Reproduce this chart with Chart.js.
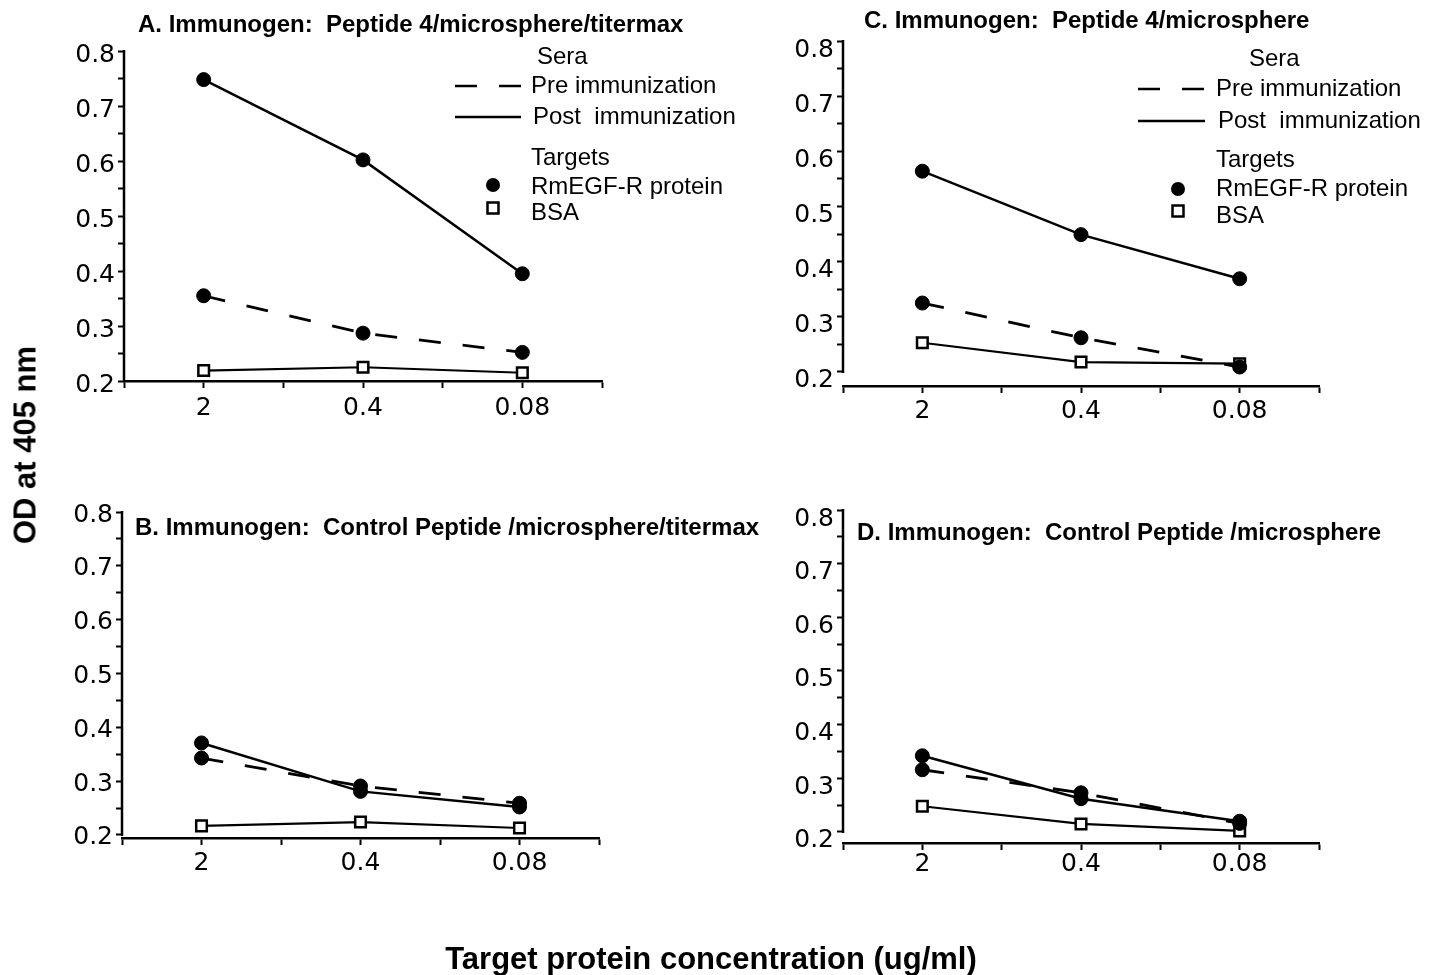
<!DOCTYPE html>
<html><head><meta charset="utf-8">
<script src="https://cdn.jsdelivr.net/npm/chart.js@4/dist/chart.umd.min.js"></script>
<style>
html,body{margin:0;padding:0;background:#fff;}
#wrap{position:relative;width:1431px;height:975px;overflow:hidden;background:#fff;}
canvas{position:absolute;left:0;top:0;width:1431px;height:975px;}
.t{position:absolute;font-family:"Liberation Sans",Arial,sans-serif;font-weight:bold;color:#000;white-space:nowrap;line-height:1;}
#ytitle{left:25px;top:445px;font-size:31px;transform:translate(-50%,-50%) rotate(-90deg);}
#xtitle{left:711px;top:958px;font-size:31px;transform:translate(-50%,-50%);}
</style></head><body>
<div id="wrap">
<canvas id="cA" width="1431" height="975"></canvas>
<canvas id="cB" width="1431" height="975"></canvas>
<canvas id="cC" width="1431" height="975"></canvas>
<canvas id="cD" width="1431" height="975"></canvas>
<div class="t" id="ytitle">OD at 405 nm</div>
<div class="t" id="xtitle">Target protein concentration (ug/ml)</div>
</div>
<script>
// ---- data ----
const concLabels = ['2', '0.4', '0.08'];
const yTickLabels = [0.2, 0.3, 0.4, 0.5, 0.6, 0.7, 0.8];
const seraLabels = ['Pre immunization', 'Post  immunization'];
const targetLabels = ['RmEGF-R protein', 'BSA'];

const titleA = 'A. Immunogen:  Peptide 4/microsphere/titermax';
const titleB = 'B. Immunogen:  Control Peptide /microsphere/titermax';
const titleC = 'C. Immunogen:  Peptide 4/microsphere';
const titleD = 'D. Immunogen:  Control Peptide /microsphere';

const A_pre  = [0.355, 0.287, 0.252];
const A_post = [0.748, 0.602, 0.395];
const A_bsa  = [0.219, 0.225, 0.215];

const B_pre  = [0.343, 0.291, 0.259];
const B_post = [0.371, 0.281, 0.252];
const B_bsa  = [0.217, 0.224, 0.213];

const C_pre  = [0.325, 0.262, 0.209];
const C_post = [0.564, 0.449, 0.369];
const C_bsa  = [0.253, 0.218, 0.215];

const D_pre  = [0.316, 0.273, 0.216];
const D_post = [0.342, 0.262, 0.220];
const D_bsa  = [0.248, 0.215, 0.202];

// ---- rendering ----
const W = 1431, H = 975;
const FONT = '"Liberation Sans", Arial, sans-serif';
const TICKFONT = '"DejaVu Sans", Verdana, sans-serif';
const yTickVals = [];
for (let i = 0; i < yTickLabels.length; i++) {
  yTickVals.push(yTickLabels[i]);
  if (i < yTickLabels.length - 1) yTickVals.push((yTickLabels[i] + yTickLabels[i + 1]) / 2);
}

function pts(arr) { return arr.map((v, i) => ({ x: 2 * i + 1, y: v })); }

const decor = {
  id: 'decor',
  afterDraw(chart, args, o) {
    const ctx = chart.ctx;
    const ys = chart.scales.y;
    const x0 = chart.chartArea.left;
    ctx.save();
    ctx.strokeStyle = '#000'; ctx.fillStyle = '#000';
    ctx.lineWidth = 2.5; ctx.lineCap = 'butt';
    ctx.beginPath();
    ctx.moveTo(x0, ys.getPixelForValue(yTickLabels[yTickLabels.length - 1]) - 1);
    ctx.lineTo(x0, ys.getPixelForValue(yTickLabels[0]) + 1);
    ctx.stroke();
    // title
    ctx.font = 'bold 24px ' + FONT;
    ctx.textBaseline = 'middle'; ctx.textAlign = 'left';
    ctx.fillText(o.title, o.titleX, o.titleY);
    const L = o.legend;
    if (L) {
      ctx.font = '24px ' + FONT;
      ctx.fillText('Sera', L.seraX, L.seraY);
      ctx.lineWidth = 2.5;
      ctx.setLineDash([22, 22]);
      ctx.beginPath(); ctx.moveTo(L.s1, L.preY); ctx.lineTo(L.s2, L.preY); ctx.stroke();
      ctx.setLineDash([]);
      ctx.fillText(seraLabels[0], L.textX, L.preY);
      ctx.beginPath(); ctx.moveTo(L.s1, L.postY); ctx.lineTo(L.s2, L.postY); ctx.stroke();
      ctx.fillText(seraLabels[1], L.postX, L.postY);
      ctx.fillText('Targets', L.textX, L.targetsY);
      ctx.beginPath(); ctx.arc(L.markerX, L.rmMarkY, 7, 0, Math.PI * 2); ctx.fill();
      ctx.fillText(targetLabels[0], L.textX, L.rmY);
      ctx.fillStyle = '#fff';
      ctx.fillRect(L.markerX - 5.5, L.bsaMarkY - 5.5, 11, 11);
      ctx.lineWidth = 2.5;
      ctx.strokeRect(L.markerX - 5.5, L.bsaMarkY - 5.5, 11, 11);
      ctx.fillStyle = '#000';
      ctx.fillText(targetLabels[1], L.textX, L.bsaY);
    }
    ctx.restore();
  }
};

function makePanel(id, g, pre, post, bsa, deco) {
  const circle = { pointStyle: 'circle', pointRadius: 7, pointBackgroundColor: '#000', pointBorderColor: '#000', pointBorderWidth: 1 };
  new Chart(document.getElementById(id), {
    type: 'line',
    data: {
      datasets: [
        Object.assign({ label: 'pre', data: pts(pre), borderColor: '#000', borderWidth: 2.8, borderDash: [22, 22], tension: 0, clip: false }, circle),
        Object.assign({ label: 'post', data: pts(post), borderColor: '#000', borderWidth: 2.5, tension: 0, clip: false }, circle),
        { label: 'bsa', data: pts(bsa), borderColor: '#000', borderWidth: 2.2, tension: 0, clip: false,
          pointStyle: 'rect', pointRadius: 7.5, pointBackgroundColor: '#fff', pointBorderColor: '#000', pointBorderWidth: 2.5 }
      ]
    },
    options: {
      responsive: false, animation: false, devicePixelRatio: 1,
      layout: { padding: { left: 0, bottom: 0, top: g.top, right: W - g.right } },
      plugins: { legend: { display: false }, tooltip: { enabled: false }, decor: deco },
      scales: {
        x: {
          type: 'linear', min: 0, max: 2 * concLabels.length,
          afterFit: s => { s.height = H - g.bottom; },
          afterBuildTicks: s => { const t = []; for (let i = 0; i <= 2 * concLabels.length; i++) t.push({ value: i }); s.ticks = t; },
          grid: { display: true, drawOnChartArea: false, drawTicks: true, tickLength: 7, tickColor: '#000', tickWidth: 2 },
          border: { display: true, color: '#000', width: 2.5 },
          ticks: {
            autoSkip: false, maxRotation: 0, padding: g.xp, color: '#000',
            font: { family: TICKFONT, size: 25 },
            callback: v => (v % 2 === 1 ? concLabels[(v - 1) / 2] : '')
          }
        },
        y: {
          type: 'linear', min: g.ymin, max: 0.8,
          afterFit: s => { s.width = g.left; },
          afterBuildTicks: s => { s.ticks = yTickVals.map(v => ({ value: v })); },
          grid: { display: true, drawOnChartArea: false, drawTicks: true, tickLength: 6, tickColor: '#000', tickWidth: 2 },
          border: { display: false },
          ticks: {
            autoSkip: false, padding: 3, color: '#000', labelOffset: g.lo,
            font: { family: TICKFONT, size: 25 },
            callback: v => {
              const k = yTickLabels.findIndex(t => Math.abs(t - v) < 1e-6);
              return k >= 0 ? yTickLabels[k].toFixed(1) : '';
            }
          }
        }
      }
    },
    plugins: [decor]
  });
}

makePanel('cA', { left: 124, right: 602, top: 51, bottom: 381, ymin: 0.2, lo: 4, xp: 5 }, A_pre, A_post, A_bsa,
  { title: titleA, titleX: 138, titleY: 25,
    legend: { seraX: 537, seraY: 57, s1: 455, s2: 521, preY: 86, postY: 117, textX: 531, postX: 533,
              targetsY: 158, markerX: 493, rmMarkY: 185, rmY: 187, bsaMarkY: 208, bsaY: 213 } });
makePanel('cB', { left: 122, right: 599, top: 512, bottom: 838, ymin: 0.1944, lo: 3, xp: 3 }, B_pre, B_post, B_bsa,
  { title: titleB, titleX: 135, titleY: 528, legend: null });
makePanel('cC', { left: 843, right: 1319, top: 41, bottom: 386, ymin: 0.1746, lo: 9, xp: 3 }, C_pre, C_post, C_bsa,
  { title: titleC, titleX: 864, titleY: 21,
    legend: { seraX: 1249, seraY: 59, s1: 1138, s2: 1205, preY: 89, postY: 121, textX: 1216, postX: 1218,
              targetsY: 160, markerX: 1178, rmMarkY: 189, rmY: 189, bsaMarkY: 211, bsaY: 216 } });
makePanel('cD', { left: 843, right: 1319, top: 510, bottom: 843, ymin: 0.1795, lo: 9, xp: -1 }, D_pre, D_post, D_bsa,
  { title: titleD, titleX: 857, titleY: 533, legend: null });
</script>
</body></html>
